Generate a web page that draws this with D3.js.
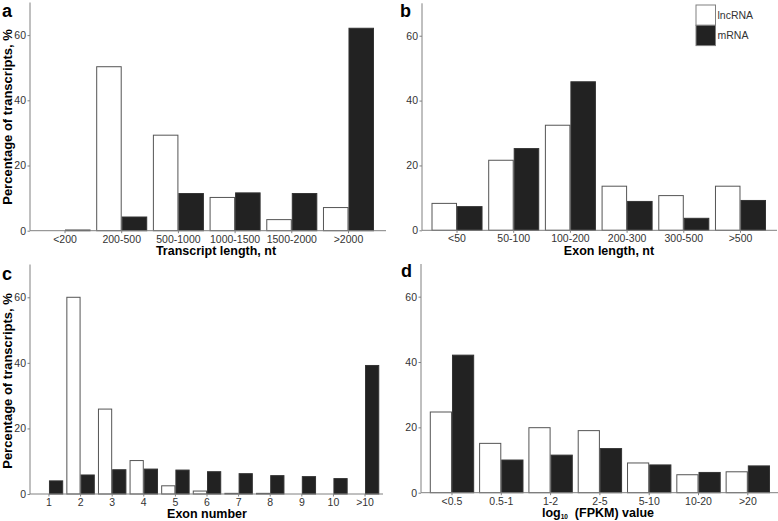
<!DOCTYPE html>
<html lang="en">
<head>
<meta charset="utf-8">
<title>lncRNA vs mRNA features</title>
<script src="https://cdn.jsdelivr.net/npm/d3@7"></script>
<style>
    body { margin: 0; background: #fff; }
    svg { display: block; font-family: "Liberation Sans", Arial, sans-serif; }
    .tick text { fill: #333; font-size: 10.5px; }
    .tick line, .axis-line { stroke: #808080; stroke-width: 1; }
    .ttl { font-weight: bold; fill: #000; }
</style>
</head>
<body>
<svg id="chart" width="778" height="521"></svg>
<script>
// values (percent of transcripts)
const lengthCats = ["<200", "200-500", "500-1000", "1000-1500", "1500-2000", ">2000"];
const lengthLnc  = [0, 50.3, 29.3, 10.2, 3.4, 7.1];
const lengthMrna = [0.2, 4.2, 11.4, 11.6, 11.4, 62.1];

const exonLenCats = ["<50", "50-100", "100-200", "200-300", "300-500", ">500"];
const exonLenLnc  = [8.3, 21.6, 32.4, 13.6, 10.7, 13.6];
const exonLenMrna = [7.3, 25.2, 45.8, 8.9, 3.7, 9.2];

const exonNumCats = ["1", "2", "3", "4", "5", "6", "7", "8", "9", "10", ">10"];
const exonNumLnc  = [0, 60.0, 25.9, 10.2, 2.5, 0.9, 0.2, 0.2, 0, 0, 0];
const exonNumMrna = [4.0, 5.8, 7.4, 7.6, 7.3, 6.8, 6.2, 5.6, 5.3, 4.7, 39.2];

const fpkmCats = ["<0.5", "0.5-1", "1-2", "2-5", "5-10", "10-20", ">20"];
const fpkmLnc  = [24.7, 15.1, 19.9, 19.0, 9.1, 5.5, 6.4];
const fpkmMrna = [42.1, 10.0, 11.5, 13.5, 8.5, 6.2, 8.2];

const seriesNames = ["lncRNA", "mRNA"];
const yTicks = [0, 20, 40, 60];
const yMax = 70;

const fills = { lncRNA: "#ffffff", mRNA: "#222222" };
const strokes = { lncRNA: "#555555", mRNA: "#333333" };

const svg = d3.select("#chart");

function drawPanel(p) {
    var g = svg.append("g");

    var x = d3.scaleBand()
        .domain(p.cats)
        .range([p.x0, p.x1])
        .paddingInner(0.1)
        .paddingOuter(0.15);
    var xs = d3.scaleBand()
        .domain(seriesNames)
        .range([0, x.bandwidth()]);
    var y = d3.scaleLinear()
        .domain([0, yMax])
        .range([p.yb, p.yt]);

    var rows = p.cats.map(function (c, i) {
        return { cat: c, lncRNA: p.lnc[i], mRNA: p.mrna[i] };
    });

    // bars
    var groups = g.selectAll("g.grp")
        .data(rows)
        .enter().append("g")
        .attr("class", "grp")
        .attr("transform", function (d) { return "translate(" + x(d.cat) + ",0)"; });

    groups.selectAll("rect")
        .data(function (d) {
            return seriesNames.map(function (s) { return { key: s, value: d[s] }; })
                .filter(function (e) { return e.value > 0; });
        })
        .enter().append("rect")
        .attr("x", function (d) { return xs(d.key) + 0.5; })
        .attr("width", xs.bandwidth() - 1)
        .attr("y", function (d) { return y(d.value); })
        .attr("height", function (d) { return Math.max(0.5, y(0) - y(d.value)); })
        .attr("fill", function (d) { return fills[d.key]; })
        .attr("stroke", function (d) { return strokes[d.key]; })
        .attr("stroke-width", 1);

    // y axis
    var ya = g.append("g")
        .attr("transform", "translate(" + p.ax + ",0)")
        .call(d3.axisLeft(y).tickValues(yTicks).tickSize(2.5).tickSizeOuter(0).tickPadding(1.5));
    ya.select(".domain").remove();
    g.append("line")
        .attr("class", "axis-line")
        .attr("x1", p.ax).attr("x2", p.ax)
        .attr("y1", y(yMax)).attr("y2", y(0));

    // x axis
    var xa = g.append("g")
        .attr("transform", "translate(0," + y(0) + ")")
        .call(d3.axisBottom(x).tickSize(2.5).tickSizeOuter(0).tickPadding(2));
    xa.select(".domain").remove();
    g.append("line")
        .attr("class", "axis-line")
        .attr("x1", p.ax).attr("x2", p.axEnd)
        .attr("y1", y(0)).attr("y2", y(0));

    // x title
    var xt = g.append("text")
        .attr("class", "ttl")
        .attr("x", p.tx)
        .attr("y", p.ty)
        .attr("text-anchor", "middle")
        .style("font-size", "12.5px");
    if (p.titleSub) {
        xt.append("tspan").text(p.title[0]);
        xt.append("tspan").attr("font-size", "6.5px").attr("dy", 2.5).text(p.titleSub);
        xt.append("tspan").attr("dy", -2.5).text("\u00a0 " + p.title[1]);
    } else {
        xt.text(p.title);
    }

    // y title
    if (p.yTitle) {
        g.append("text")
            .attr("class", "ttl")
            .attr("transform", "translate(11.5," + p.yTitleY + ") rotate(-90)")
            .attr("text-anchor", "middle")
            .style("font-size", "13px")
            .text(p.yTitle);
    }

    // panel letter
    g.append("text")
        .attr("class", "ttl")
        .attr("x", p.lx)
        .attr("y", p.ly)
        .style("font-size", "18px")
        .text(p.letter);
}

drawPanel({ cats: lengthCats, lnc: lengthLnc, mrna: lengthMrna,
    x0: 31, x1: 382.5, ax: 30, axEnd: 386, yb: 230.7, yt: 2.5,
    title: "Transcript length, nt", tx: 216, ty: 254.5,
    yTitle: "Percentage of transcripts, %", yTitleY: 117,
    letter: "a", lx: 2, ly: 16.5 });

drawPanel({ cats: exonLenCats, lnc: exonLenLnc, mrna: exonLenMrna,
    x0: 423, x1: 774.5, ax: 422, axEnd: 777, yb: 230.3, yt: 3.3,
    title: "Exon length, nt", tx: 609, ty: 254.5,
    letter: "b", lx: 400, ly: 16.5 });

drawPanel({ cats: exonNumCats, lnc: exonNumLnc, mrna: exonNumMrna,
    x0: 30, x1: 384, ax: 30, axEnd: 383, yb: 494, yt: 264.5,
    title: "Exon number", tx: 207, ty: 518,
    yTitle: "Percentage of transcripts, %", yTitleY: 381,
    letter: "c", lx: 2, ly: 280 });

drawPanel({ cats: fpkmCats, lnc: fpkmLnc, mrna: fpkmMrna,
    x0: 422.4, x1: 777.4, ax: 421, axEnd: 778, yb: 492.7, yt: 264,
    title: ["log", "(FPKM) value"], titleSub: "10", tx: 598, ty: 516.5,
    letter: "d", lx: 401, ly: 277 });

// legend (top right of panel b)
const legend = svg.append("g").attr("transform", "translate(696,5)");
const legendRows = legend.selectAll("g")
    .data(seriesNames)
    .enter().append("g")
    .attr("transform", function (d, i) { return "translate(0," + (i * 20.3) + ")"; });
legendRows.append("rect")
    .attr("width", 19.5)
    .attr("height", 20.3)
    .attr("fill", function (d) { return fills[d]; })
    .attr("stroke", "#808080")
    .attr("stroke-width", 1);
legendRows.append("text")
    .attr("x", 21.5)
    .attr("y", 14)
    .style("font-size", "10.5px")
    .attr("fill", "#333")
    .text(function (d) { return d; });
</script>
</body>
</html>
